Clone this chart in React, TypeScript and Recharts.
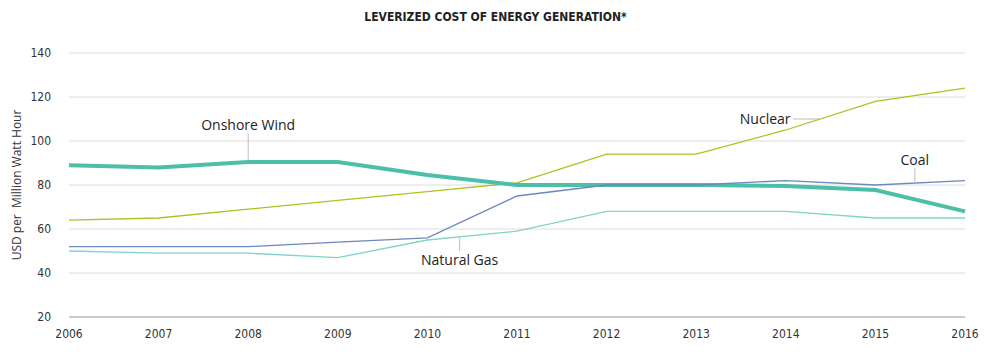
import {
  LineChart,
  Line,
  XAxis,
  YAxis,
  CartesianGrid,
  ReferenceLine,
  ReferenceDot
} from 'recharts'

const years = [2006, 2007, 2008, 2009, 2010, 2011, 2012, 2013, 2014, 2015, 2016]
const onshoreWind = [89, 88, 90.5, 90.5, 84.5, 80, 80, 80, 79.5, 77.7, 68]
const nuclear = [64, 65, 69, 73, 77, 81, 94, 94, 105, 118, 124]
const coal = [52, 52, 52, 54, 56, 75, 80, 80, 82, 80, 82]
const naturalGas = [50, 49, 49, 47, 55, 59, 68, 68, 68, 65, 65]
const yTicks = [20, 40, 60, 80, 100, 120, 140]

const data = years.map((year, i) => ({
  year,
  wind: onshoreWind[i],
  nuclear: nuclear[i],
  coal: coal[i],
  gas: naturalGas[i]
}))

const labelFont = '"Open Sans", sans-serif'
const tickFont = '"Liberation Sans Narrow", "DejaVu Sans Condensed", sans-serif'
const leader = '#bdbdbd'

export default function App() {
  return (
    <div style={{ position: 'absolute', left: 0, top: 0, width: 991, height: 355, background: '#fff' }}>
      <div
        style={{
          position: 'absolute',
          top: 10,
          left: 0,
          width: 991,
          textAlign: 'center',
          fontFamily: '"DejaVu Sans Condensed", sans-serif',
          fontWeight: 'bold',
          fontSize: 12,
          color: '#222'
        }}
      >
        LEVERIZED COST OF ENERGY GENERATION*
      </div>
      <LineChart
        width={991}
        height={355}
        data={data}
        margin={{ top: 53, right: 26, left: 9, bottom: 18 }}
      >
        <CartesianGrid horizontal vertical={false} stroke="#dcdcdc" />
        <XAxis
          dataKey="year"
          type="number"
          domain={[2006, 2016]}
          ticks={years}
          height={20}
          tickLine={false}
          axisLine={{ stroke: '#a8a8a8' }}
          tick={{ fill: '#333', fontSize: 12, fontFamily: tickFont }}
          tickMargin={6}
          interval={0}
        />
        <YAxis
          domain={[20, 140]}
          ticks={yTicks}
          width={60}
          tickLine={false}
          axisLine={false}
          tick={{ fill: '#333', fontSize: 12, fontFamily: tickFont }}
          tickMargin={12}
          label={{
            value: 'USD per\u00a0 Million Watt Hour',
            angle: -90,
            position: 'insideLeft',
            offset: 8,
            style: { textAnchor: 'middle', fill: '#333', fontSize: 12, fontFamily: labelFont }
          }}
        />

        {/* leader lines */}
        <ReferenceLine segment={[{ x: 2008, y: 91.5 }, { x: 2008, y: 103.5 }]} stroke={leader} />
        <ReferenceLine segment={[{ x: 2014.08, y: 110 }, { x: 2014.38, y: 110 }]} stroke={leader} />
        <ReferenceLine segment={[{ x: 2015.44, y: 81.5 }, { x: 2015.44, y: 87.7 }]} stroke={leader} />
        <ReferenceLine segment={[{ x: 2010.36, y: 50 }, { x: 2010.36, y: 56 }]} stroke={leader} />

        <Line type="linear" dataKey="gas" stroke="#82d4c7" strokeWidth={1.3} dot={false} isAnimationActive={false} />
        <Line type="linear" dataKey="nuclear" stroke="#a9c420" strokeWidth={1.3} dot={false} isAnimationActive={false} />
        <Line type="linear" dataKey="wind" stroke="#4cbfa9" strokeWidth={4} dot={false} isAnimationActive={false} />
        <Line type="linear" dataKey="coal" stroke="#6b88c0" strokeWidth={1.3} dot={false} isAnimationActive={false} />

        {/* series labels */}
        <ReferenceDot x={2008} y={107.3} r={0} fill="none" stroke="none"
          label={{ value: 'Onshore Wind', position: 'center', fill: '#222', fontSize: 14, fontFamily: labelFont }} />
        <ReferenceDot x={2013.77} y={110} r={0} fill="none" stroke="none"
          label={{ value: 'Nuclear', position: 'center', fill: '#222', fontSize: 14, fontFamily: labelFont }} />
        <ReferenceDot x={2015.44} y={91.4} r={0} fill="none" stroke="none"
          label={{ value: 'Coal', position: 'center', fill: '#222', fontSize: 14, fontFamily: labelFont }} />
        <ReferenceDot x={2010.36} y={46} r={0} fill="none" stroke="none"
          label={{ value: 'Natural Gas', position: 'center', fill: '#222', fontSize: 14, fontFamily: labelFont }} />
      </LineChart>
    </div>
  )
}
